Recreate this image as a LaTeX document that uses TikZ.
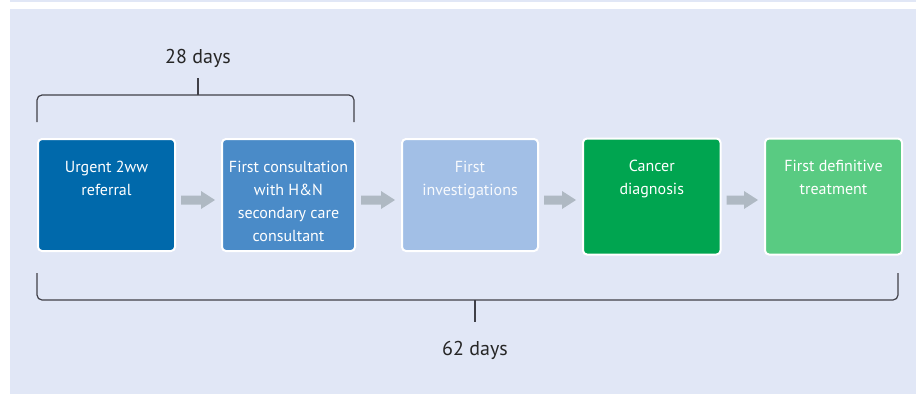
\documentclass[tikz,border=0pt]{standalone}
\usepackage{fontspec}
\setmainfont{PT Sans}
\usetikzlibrary{calc}
\definecolor{bgc}{HTML}{E1E7F6}
\definecolor{cA}{HTML}{0069AB}
\definecolor{cB}{HTML}{4A8BC8}
\definecolor{cC}{HTML}{A2BFE6}
\definecolor{cD}{HTML}{00A550}
\definecolor{cE}{HTML}{59CB82}
\definecolor{arrc}{HTML}{AFB9C3}
\definecolor{bracec}{HTML}{404048}
\newcommand{\blockarrow}[2]{%
  \fill[flow] ($(#1.east |- 0,200)+(5,-4.5)$) -- ($(#2.west |- 0,200)+(-20,-4.5)$)
    -- ($(#2.west |- 0,200)+(-20,-9)$) -- ($(#2.west |- 0,200)+(-6,0)$)
    -- ($(#2.west |- 0,200)+(-20,9)$) -- ($(#2.west |- 0,200)+(-20,4.5)$)
    -- ($(#1.east |- 0,200)+(5,4.5)$) -- cycle;}
\begin{document}
\begin{tikzpicture}[x=1pt,y=-1pt,
  stage/.style={draw=white, line width=2pt, rounded corners=4pt, inner sep=0pt},
  lbl/.style={text=white, align=center, inner sep=0pt, anchor=north, font=\fontsize{16}{23}\selectfont},
  flow/.style={fill=arrc},
  bracket/.style={draw=bracec, line width=1.2pt, rounded corners=5pt},
  daylbl/.style={text=black!85, inner sep=0pt, anchor=base, font=\fontsize{20}{24}\selectfont}]
\useasboundingbox (0,0) rectangle (920,394);
\fill[white] (0,0) rectangle (920,394);
\fill[bgc] (10,0) rectangle (916,2);
\fill[bgc] (10,9) rectangle (916,394);
% stages
\node[stage, fill=cA, minimum width=137pt, minimum height=112pt] (b1) at (106.5,195) {};
\node[stage, fill=cB, minimum width=133pt, minimum height=112pt] (b2) at (288.5,195) {};
\node[stage, fill=cC, minimum width=136pt, minimum height=112pt] (b3) at (470,195) {};
\node[stage, fill=cD, minimum width=137.5pt, minimum height=116pt] (b4) at (651.75,196.5) {};
\node[stage, fill=cE, minimum width=137pt, minimum height=116pt] (b5) at (833.5,196.5) {};
% labels
\node[lbl] (t1) at ([yshift=-22.5pt]b1.north) {Urgent 2ww\\referral};
\node[lbl] (t2) at ([yshift=-22.5pt]b2.north) {First consultation\\with H\&N\\secondary care\\consultant};
\node[lbl, text=white!92!cC] (t3) at ([yshift=-22.5pt]b3.north) {First\\investigations};
\node[lbl] (t4) at ([yshift=-22.5pt]b4.north) {Cancer\\diagnosis};
\node[lbl] (t5) at ([yshift=-22.5pt]b5.north) {First definitive\\treatment};
% arrows
\blockarrow{b1}{b2}
\blockarrow{b2}{b3}
\blockarrow{b3}{b4}
\blockarrow{b4}{b5}
% top bracket
\draw[bracket] (37,122) -- (37,95) -- (354,95) -- (354,122);
\draw[bracket] (198,95) -- (198,78);
\node[daylbl] (d28) at (198,63) {28 days};
% bottom bracket
\draw[bracket] (37,273) -- (37,300) -- (898,300) -- (898,273);
\draw[bracket] (475,300) -- (475,322);
\node[daylbl] (d62) at (475,355) {62 days};
\end{tikzpicture}
\end{document}
